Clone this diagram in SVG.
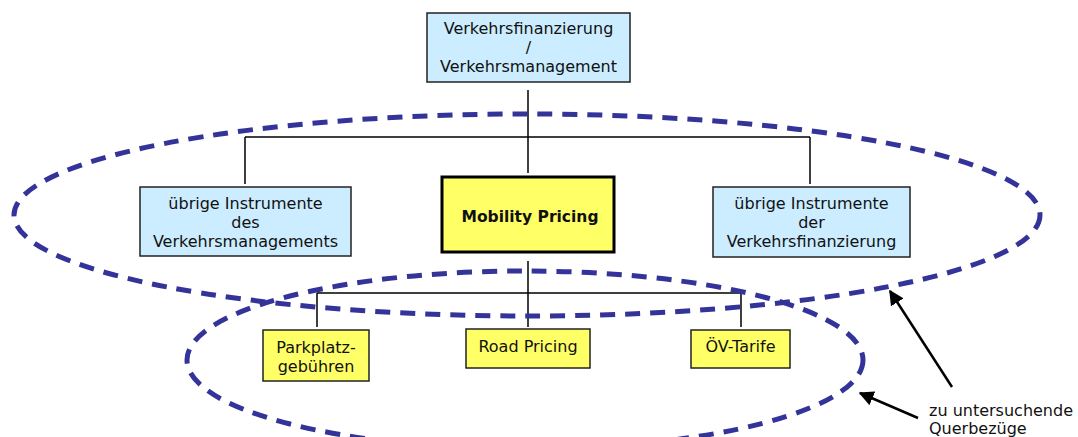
<svg xmlns="http://www.w3.org/2000/svg" width="1078" height="437" viewBox="0 0 1078 437">
<style>
text{font-family:"DejaVu Sans","Verdana",sans-serif;font-size:16px;fill:#111;text-anchor:middle}
.blue{fill:#CCECFF;stroke:#222;stroke-width:1.5}
.yel{fill:#FFFF66;stroke:#222;stroke-width:1.5}
.conn{stroke:#000;stroke-width:1.5;fill:none}
.ell{fill:none;stroke:#333399;stroke-width:5;stroke-dasharray:15 10}
.arr{stroke:#000;stroke-width:2.5;fill:none}
</style>
<defs>
<marker id="ah" viewBox="0 0 10 10" refX="9" refY="5" markerWidth="6" markerHeight="6" orient="auto" markerUnits="strokeWidth">
<path d="M0,0 L10,5 L0,10 z" fill="#000"/>
</marker>
</defs>
<rect width="1078" height="437" fill="#fff"/>
<g id="connectors">
<path class="conn" d="M528,90 V137 M245,137 H810 M245,137 V184 M528,137 V173 M810,137 V184"/>
<path class="conn" d="M528,261 V327 M317,293 H741 M317,293 V327 M741,293 V327"/>
</g>
<g id="top">
<rect class="blue" x="427" y="13" width="203" height="69"/>
<text x="528.5" y="34">Verkehrsfinanzierung</text>
<text x="528.5" y="53">/</text>
<text x="528.5" y="72">Verkehrsmanagement</text>
</g>
<g id="left">
<rect class="blue" x="140" y="187" width="211" height="69"/>
<text x="245.5" y="209">übrige Instrumente</text>
<text x="245.5" y="228">des</text>
<text x="245.5" y="247">Verkehrsmanagements</text>
</g>
<g id="mobility">
<rect x="442" y="177" width="172" height="75" fill="#FFFF66" stroke="#000" stroke-width="3"/>
<text x="530" y="222" style="font-weight:bold;font-size:15.5px">Mobility Pricing</text>
</g>
<g id="right">
<rect class="blue" x="713" y="187" width="197" height="70"/>
<text x="811.5" y="209">übrige Instrumente</text>
<text x="811.5" y="228">der</text>
<text x="811.5" y="247">Verkehrsfinanzierung</text>
</g>
<g id="parkplatz">
<rect class="yel" x="263" y="330" width="106" height="51"/>
<text x="316" y="353">Parkplatz-</text>
<text x="316" y="372">gebühren</text>
</g>
<g id="road">
<rect class="yel" x="466" y="329" width="124" height="39"/>
<text x="528" y="352">Road Pricing</text>
</g>
<g id="oev">
<rect class="yel" x="691" y="330" width="99" height="38"/>
<text x="740.5" y="352">ÖV-Tarife</text>
</g>
<g id="ellipses">
<ellipse class="ell" cx="527" cy="215" rx="513" ry="101"/>
<ellipse class="ell" cx="525" cy="360" rx="338" ry="89"/>
</g>
<g id="annotation">
<line class="arr" x1="952" y1="387" x2="890" y2="291" marker-end="url(#ah)"/>
<line class="arr" x1="918" y1="418" x2="860" y2="393" marker-end="url(#ah)"/>
<text x="929" y="416" style="text-anchor:start">zu untersuchende</text>
<text x="929" y="434" style="text-anchor:start">Querbezüge</text>
</g>
</svg>
